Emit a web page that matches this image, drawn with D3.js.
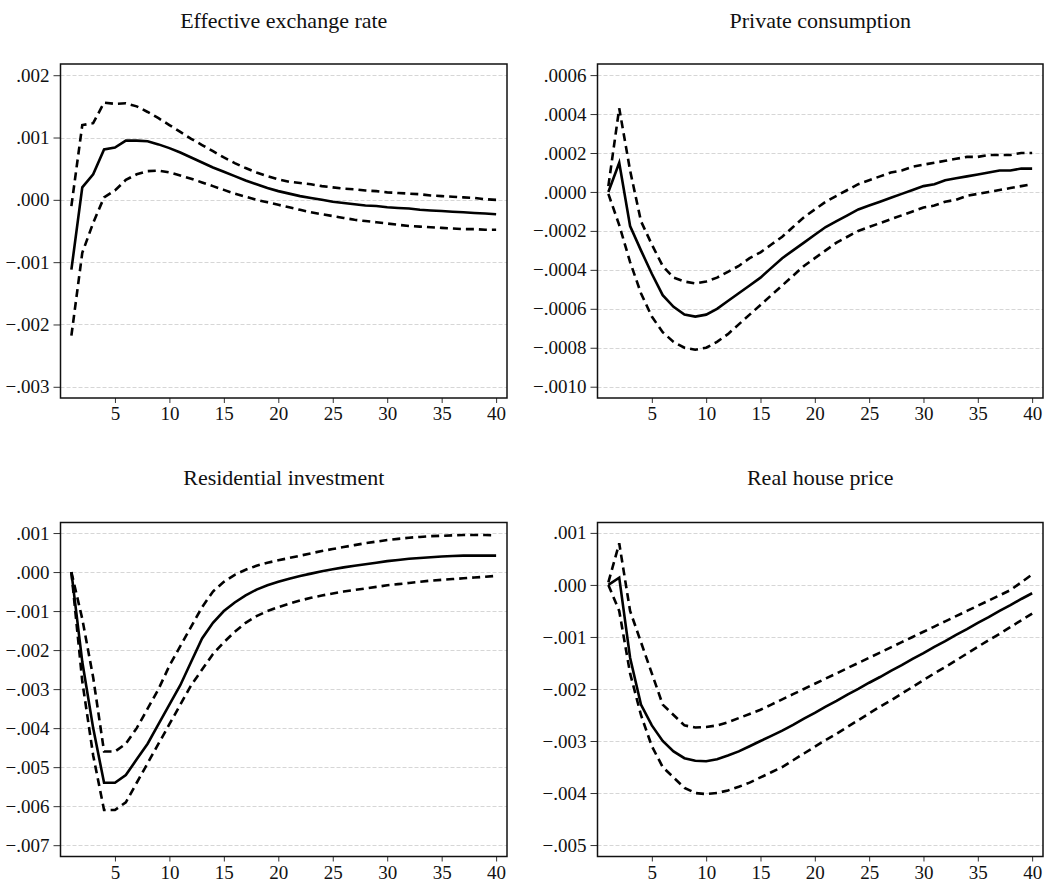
<!DOCTYPE html>
<html>
<head>
<meta charset="utf-8">
<script src="https://cdn.jsdelivr.net/npm/d3@7"></script>
<style>
  body { margin: 0; background: #fff; }
</style>
</head>
<body>
<div class="visualizations"></div>
<script>
// horizon 1..40
var steps = d3.range(1, 41);
var xTicks = [5, 10, 15, 20, 25, 30, 35, 40];

// Effective exchange rate
var exchMean = [-.00112, .00020, .00041, .00081, .00084, .00095, .00095, .00094, .00089, .00083,
  .00076, .00068, .00060, .00052, .00045, .00038, .00031, .00025, .00019, .00014,
  .00010, .00006, .00003, .00000, -.00003, -.00005, -.00007, -.00009, -.00010, -.00012,
  -.00013, -.00014, -.00016, -.00017, -.00018, -.00019, -.00020, -.00021, -.00022, -.00023];
var exchUpper = [-.00010, .00120, .00123, .00156, .00154, .00155, .00150, .00141, .00131, .00120,
  .00109, .00098, .00088, .00078, .00068, .00059, .00051, .00044, .00038, .00033,
  .00029, .00027, .00025, .00022, .00020, .00018, .00017, .00015, .00014, .00012,
  .00011, .00010, .00009, .00007, .00006, .00005, .00004, .00003, .00001, .00000];
var exchLower = [-.00218, -.00085, -.00037, .00004, .00015, .00032, .00041, .00046, .00047, .00044,
  .00039, .00034, .00028, .00022, .00016, .00010, .00005, .00000, -.00004, -.00008,
  -.00012, -.00016, -.00020, -.00023, -.00026, -.00029, -.00032, -.00034, -.00036, -.00038,
  -.00040, -.00042, -.00043, -.00044, -.00045, -.00046, -.00047, -.00047, -.00048, -.00048];
var exchTicks = [.002, .001, 0, -.001, -.002, -.003];

// Private consumption
var consMean = [.00000, .00015, -.000175, -.00030, -.00042, -.00053, -.00059, -.00063, -.00064, -.00063,
  -.00060, -.00056, -.00052, -.00048, -.00044, -.00039, -.00034, -.00030, -.00026, -.00022,
  -.00018, -.00015, -.00012, -.00009, -.00007, -.00005, -.00003, -.00001, .00001, .00003,
  .00004, .00006, .00007, .00008, .00009, .00010, .00011, .00011, .00012, .00012];
var consUpper = [.00003, .00043, .00011, -.00015, -.00027, -.00038, -.00044, -.00046, -.00047, -.00046,
  -.00044, -.00041, -.00038, -.00034, -.00031, -.00027, -.00023, -.00018, -.00013, -.00009,
  -.00005, -.00002, .00001, .00004, .00006, .00008, .00010, .00011, .00013, .00014,
  .00015, .00016, .00017, .00018, .00018, .00019, .00019, .00019, .00020, .00020];
var consLower = [-.00001, -.00017, -.00036, -.00052, -.00064, -.00072, -.00077, -.00080, -.00081, -.00080,
  -.00077, -.00073, -.00068, -.00063, -.00058, -.00053, -.00048, -.00043, -.00038, -.00034,
  -.00030, -.00026, -.00023, -.00020, -.00018, -.00016, -.00014, -.00012, -.00010, -.00008,
  -.00007, -.00005, -.00004, -.00002, -.00001, .00000, .00001, .00002, .00003, .00004];
var consTicks = [.0006, .0004, .0002, 0, -.0002, -.0004, -.0006, -.0008, -.0010];

// Residential investment
var resMean = [.0000, -.0023, -.0040, -.0054, -.0054, -.0052, -.0048, -.0044, -.0039, -.0034,
  -.0029, -.0023, -.0017, -.0013, -.0010, -.00078, -.0006, -.00045, -.00034, -.00025,
  -.00017, -.00010, -.00004, .00002, .00007, .00012, .00016, .00020, .00024, .00028,
  .00031, .00034, .00036, .00038, .00040, .00041, .00042, .00042, .00042, .00042];
var resUpper = [.0000, -.0012, -.0027, -.0046, -.0046, -.0044, -.0040, -.0035, -.0030, -.0024,
  -.0019, -.0014, -.0009, -.0005, -.00025, -.00007, .00006, .00016, .00024, .00030,
  .00036, .00042, .00048, .00054, .00059, .00064, .00069, .00074, .00078, .00082,
  .00085, .00088, .00090, .00092, .00093, .00094, .00095, .00095, .00095, .00094];
var resLower = [.0000, -.0028, -.0047, -.0061, -.0061, -.0059, -.0054, -.0049, -.0044, -.0039,
  -.0034, -.0029, -.0025, -.0021, -.0018, -.00153, -.0013, -.00113, -.0010, -.0009,
  -.00081, -.00073, -.00066, -.0006, -.00055, -.0005, -.00046, -.00042, -.00038, -.00034,
  -.00031, -.00028, -.00025, -.00022, -.00020, -.00018, -.00016, -.00014, -.00012, -.00010];
var resTicks = [.001, 0, -.001, -.002, -.003, -.004, -.005, -.006, -.007];

// Real house price
var houseMean = [.0000, .00014, -.0014, -.0023, -.0027, -.0030, -.0032, -.00333, -.00338, -.00339,
  -.00335, -.00328, -.0032, -.0031, -.0030, -.0029, -.0028, -.00269, -.00257, -.00246,
  -.00234, -.00223, -.00211, -.00200, -.00188, -.00177, -.00165, -.00154, -.00142, -.00131,
  -.00119, -.00108, -.00096, -.00085, -.00073, -.00062, -.00050, -.00039, -.00027, -.00016];
var houseUpper = [.00005, .0008, -.0005, -.0011, -.0017, -.0023, -.0025, -.0027, -.00274, -.00273,
  -.0027, -.00264, -.00256, -.00248, -.0024, -.0023, -.0022, -.0021, -.0020, -.0019,
  -.0018, -.0017, -.0016, -.0015, -.0014, -.0013, -.0012, -.0011, -.0010, -.0009,
  -.0008, -.0007, -.0006, -.0005, -.0004, -.0003, -.0002, -.0001, .00005, .0002];
var houseLower = [.0000, -.0005, -.0017, -.0025, -.0031, -.0035, -.0037, -.0039, -.0040, -.00402,
  -.0040, -.00395, -.00388, -.0038, -.0037, -.0036, -.0035, -.00337, -.00324, -.00311,
  -.00298, -.00286, -.00273, -.0026, -.00247, -.00234, -.00222, -.00209, -.00196, -.00183,
  -.0017, -.00158, -.00145, -.00132, -.00119, -.00106, -.00094, -.00081, -.00068, -.00055];
var houseTicks = [.001, 0, -.001, -.002, -.003, -.004, -.005];

var panels = [
  { title: "Effective exchange rate", mean: exchMean, upper: exchUpper, lower: exchLower, ticks: exchTicks,
    dec: 3, yDomain: [-.00318, .00218], left: 60.5, right: 507, top: 64, bottom: 398, titleY: 28 },
  { title: "Private consumption", mean: consMean, upper: consUpper, lower: consLower, ticks: consTicks,
    dec: 4, yDomain: [-.001058, .000657], left: 597.5, right: 1043, top: 64, bottom: 398, titleY: 28 },
  { title: "Residential investment", mean: resMean, upper: resUpper, lower: resLower, ticks: resTicks,
    dec: 3, yDomain: [-.00729, .00127], left: 60.5, right: 507, top: 522.5, bottom: 856.5, titleY: 485 },
  { title: "Real house price", mean: houseMean, upper: houseUpper, lower: houseLower, ticks: houseTicks,
    dec: 3, yDomain: [-.00522, .0012], left: 597.5, right: 1043, top: 522.5, bottom: 856.5, titleY: 485 }
];

var width = 1044, height = 884;
var font = "'Liberation Serif', 'Times New Roman', serif";

var svg = d3.select(".visualizations").append("svg")
  .attr("width", width).attr("height", height);

panels.forEach(function(p) {
  var x = d3.scaleLinear().domain([0, 41]).range([p.left, p.right]);
  var y = d3.scaleLinear().domain(p.yDomain).range([p.bottom, p.top]);
  var fmt = function(v) {
    var s = d3.format("." + p.dec + "f")(Math.abs(v) < 1e-12 ? 0 : v);
    return s.replace("0.", ".");
  };
  var g = svg.append("g");

  g.selectAll("line.grid").data(p.ticks).enter().append("line")
    .attr("class", "grid")
    .attr("x1", p.left).attr("x2", p.right)
    .attr("y1", function(d) { return Math.round(y(d)) + 0.5; })
    .attr("y2", function(d) { return Math.round(y(d)) + 0.5; })
    .style("stroke", "#d6d6d6").style("stroke-width", 1).style("stroke-dasharray", "4,2");

  var ya = g.append("g")
    .attr("transform", "translate(" + p.left + ",0)")
    .call(d3.axisLeft(y).tickValues(p.ticks).tickFormat(fmt).tickSize(7).tickPadding(4));
  var xa = g.append("g")
    .attr("transform", "translate(0," + p.bottom + ")")
    .call(d3.axisBottom(x).tickValues(xTicks).tickFormat(d3.format("d")).tickSize(5).tickPadding(4));
  [ya, xa].forEach(function(a) {
    a.select(".domain").remove();
    a.attr("font-family", font).attr("font-size", 19);
    a.selectAll("text").style("fill", "#111");
    a.selectAll("line").style("stroke", "#333").style("stroke-width", 1);
  });

  g.append("rect")
    .attr("x", p.left).attr("y", p.top)
    .attr("width", p.right - p.left).attr("height", p.bottom - p.top)
    .style("fill", "none").style("stroke", "#111").style("stroke-width", 1.5);

  var line = d3.line()
    .x(function(d, i) { return x(steps[i]); })
    .y(function(d) { return y(d); });

  g.append("path").attr("d", line(p.upper))
    .style("fill", "none").style("stroke", "#000").style("stroke-width", 2.6)
    .style("stroke-dasharray", "8,5");
  g.append("path").attr("d", line(p.lower))
    .style("fill", "none").style("stroke", "#000").style("stroke-width", 2.6)
    .style("stroke-dasharray", "8,5");
  g.append("path").attr("d", line(p.mean))
    .style("fill", "none").style("stroke", "#000").style("stroke-width", 2.6);

  g.append("text")
    .attr("x", (p.left + p.right) / 2).attr("y", p.titleY)
    .attr("text-anchor", "middle")
    .attr("font-family", font).attr("font-size", 22)
    .style("fill", "#111")
    .text(p.title);
});
</script>
</body>
</html>
